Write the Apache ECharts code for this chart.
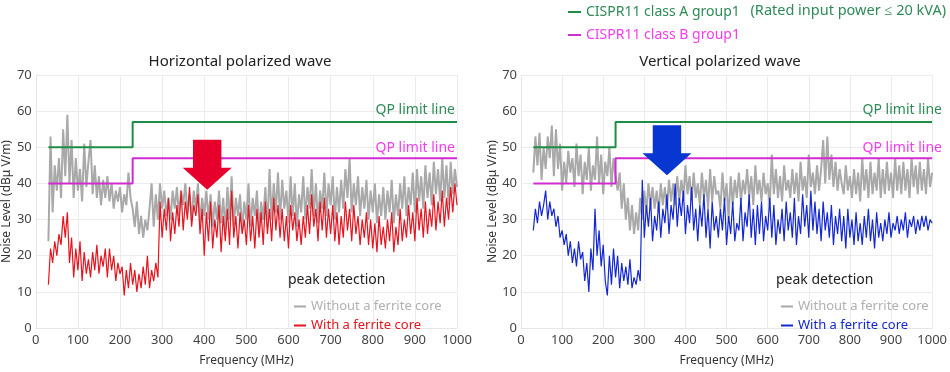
<!DOCTYPE html>
<html>
<head>
<meta charset="utf-8">
<script src="https://cdn.jsdelivr.net/npm/echarts@6/dist/echarts.min.js"></script>
<style>html,body{margin:0;padding:0;background:#fff}#c{width:950px;height:372px}</style>
</head>
<body>
<div id="c"></div>
<script>
// Frequency sampling (MHz): start and step of the measured sweep
const freqStart = 30, freqStep = 5;
const xTicks = [0,100,200,300,400,500,600,700,800,900,1000];
const yTicks = [0,10,20,30,40,50,60,70];

// Limit lines (MHz, dBuV/m)
const limitFreq = [30, 230, 230, 1000];
const limitA = [50, 50, 57, 57];
const limitB = [40, 40, 47, 47];

// Horizontal polarized wave
const hWithout = [
24,53,32,45,38,47,36,55,42,59,
40,52,36,47,38,44,35,51,39,46,
52,37,45,36,42,34,41,36,42,35,
40,33,38,35,39,32,37,34,43,36,
33,28,35,26,31,25,30,27,33,40,
28,37,30,40,33,38,31,36,30,38,
33,39,31,38,34,40,32,37,30,38,
33,40,29,36,31,38,30,37,28,35,
30,38,29,36,27,39,30,42,28,36,
31,37,27,35,30,40,28,36,31,38,
27,35,30,39,28,44,30,40,32,43,
30,41,33,38,29,42,31,40,28,37,
32,42,30,39,33,44,31,40,29,38,
33,43,31,40,34,42,30,39,32,41,
33,44,36,47,32,40,34,42,31,39,
33,41,30,38,32,40,29,37,31,39,
30,38,32,41,29,37,31,40,33,42,
31,39,34,43,32,44,35,42,33,45,
36,43,34,46,37,44,35,47,36,45,
34,46,37,44,39];
const hWith = [
12,22,18,24,20,26,23,31,25,32,
18,25,14,22,16,24,13,21,15,19,
14,21,16,23,15,20,17,22,14,22,
16,20,13,18,15,17,9,16,11,18,
12,16,10,15,11,17,12,20,11,16,
13,18,14,35,25,33,27,36,24,32,
26,34,28,38,27,35,30,39,28,34,
31,37,26,33,20,32,24,35,22,30,
25,34,21,31,24,33,23,38,25,31,
22,32,26,30,23,34,24,31,22,33,
25,32,23,35,26,33,24,36,27,34,
25,33,24,31,22,34,27,32,24,30,
23,31,25,34,26,37,28,33,24,35,
27,36,25,33,26,34,24,32,23,31,
25,35,27,33,24,34,26,31,23,30,
25,32,23,30,22,29,21,31,23,28,
22,30,24,32,21,28,23,33,24,30,
25,34,26,32,24,36,27,33,25,35,
26,33,28,37,27,35,29,38,28,36,
30,39,32,40,34];

// Vertical polarized wave
const vWithout = [
43,53,45,54,41,50,44,53,47,56,
42,55,44,51,38,46,40,49,43,47,
39,51,42,48,37,46,41,50,38,45,
41,53,40,48,37,46,42,50,39,47,
42,38,43,33,40,30,36,27,34,26,
32,27,36,30,38,32,40,34,39,33,
38,32,40,34,39,33,41,35,40,34,
42,35,41,36,45,37,42,35,43,36,
40,34,43,36,41,33,44,35,42,37,
38,33,43,35,40,30,42,34,41,36,
43,35,41,37,44,36,42,34,45,37,
41,35,43,37,40,34,48,37,44,36,
42,35,45,38,41,36,44,37,43,35,
46,38,42,36,48,39,43,37,45,38,
44,52,40,53,41,48,39,46,38,44,
40,37,45,38,42,36,44,37,43,35,
47,38,44,36,46,37,43,38,47,36,
44,37,46,38,43,36,47,38,45,37,
46,38,44,36,47,39,45,37,46,38,
44,37,47,39,43];
const vWith = [
27,33,29,35,31,34,38,30,35,31,
33,28,31,25,27,23,26,20,24,18,
22,17,24,19,21,13,18,10,22,16,
33,20,27,17,23,13,9,20,12,22,
14,20,11,18,13,17,12,19,11,14,
12,16,13,41,25,34,28,36,24,31,
27,35,25,33,29,37,26,34,30,40,
28,36,31,38,26,34,29,39,27,33,
24,34,28,37,25,33,22,35,27,31,
25,33,27,36,23,31,26,35,24,29,
27,36,24,32,28,37,25,33,23,34,
26,35,24,31,27,36,25,34,23,30,
26,33,24,35,27,32,25,36,23,31,
26,37,28,34,25,38,27,35,26,33,
24,35,27,32,25,34,23,31,26,33,
24,31,22,33,25,30,23,32,24,29,
23,31,25,33,24,30,22,32,25,29,
24,30,26,32,25,29,27,31,26,30,
27,32,25,30,28,31,26,30,27,31,
28,31,27,30,29];

// Arrow annotation anchors (MHz, dB)
const hArrow = [407, 45.2];
const vArrow = [355, 49.2];

const FONT = 'Noto Sans';
const GREEN = '#1e8e45', GREEN_T = '#2e8b57';
const MAG = '#d22bd2', MAG_T = '#f53cef';
const GRAY = '#a9a9a9', RED = '#e6141e', BLUE = '#1428d2';

function pairs(vals){ return vals.map((v,i)=>[freqStart + i*freqStep, v]); }
function limPairs(vals){ return vals.map((v,i)=>[limitFreq[i], v]); }

const arrowPath = 'path://M21,0 L79,0 L79,56 L100,56 L50,100 L0,56 L21,56 Z';

function xAxis(gi){ return {gridIndex:gi, type:'value', min:0, max:1000, interval:100,
  name:'Frequency (MHz)', nameLocation:'middle', nameGap:27,
  nameTextStyle:{fontFamily:FONT, fontSize:12, color:'#333'},
  axisLine:{show:true, lineStyle:{color:'#e6e6e6'}}, axisTick:{show:false},
  axisLabel:{fontFamily:FONT, fontSize:13, color:'#444', margin:6, formatter:v=>String(v)},
  splitLine:{show:true, lineStyle:{color:'#ececec'}}}; }
function yAxis(gi, gap){ return {gridIndex:gi, type:'value', min:0, max:70, interval:10,
  name:'Noise Level (dBμ V/m)', nameLocation:'middle', nameGap:gap,
  nameTextStyle:{fontFamily:FONT, fontSize:12, color:'#333'},
  axisLine:{show:true, lineStyle:{color:'#e6e6e6'}}, axisTick:{show:false},
  axisLabel:{fontFamily:FONT, fontSize:13, color:'#444', margin:4},
  splitLine:{show:true, lineStyle:{color:'#ececec'}}}; }

function panel(gi, without, withV, withColor, withName, withoutName, arrowAt, arrowColor){
  return [
    {name:withoutName, type:'line', xAxisIndex:gi, yAxisIndex:gi, data:pairs(without), showSymbol:false,
     lineStyle:{color:GRAY, width:2}, itemStyle:{color:GRAY}, z:2, animation:false},
    {name:withName, type:'line', xAxisIndex:gi, yAxisIndex:gi, data:pairs(withV), showSymbol:false,
     lineStyle:{color:withColor, width:1.2}, itemStyle:{color:withColor}, z:3, animation:false,
     markPoint:{symbol:arrowPath, symbolSize:[49,50], silent:true, animation:false,
       itemStyle:{color:arrowColor}, label:{show:false},
       data:[{coord:arrowAt}]}},
    {name:'CISPR11 class A group1', type:'line', xAxisIndex:gi, yAxisIndex:gi, data:limPairs(limitA), showSymbol:false,
     lineStyle:{color:GREEN, width:2}, itemStyle:{color:GREEN}, z:4, animation:false},
    {name:'CISPR11 class B group1', type:'line', xAxisIndex:gi, yAxisIndex:gi, data:limPairs(limitB), showSymbol:false,
     lineStyle:{color:MAG, width:2}, itemStyle:{color:MAG}, z:4, animation:false}
  ];
}

const chart = echarts.init(document.getElementById('c'), null, {renderer:'canvas'});
const txt = (x,y,t,color,size,align)=>({type:'text', x, y, z:50, style:{text:t, fill:color,
  font:size+'px "'+FONT+'"', textAlign:align||'left', textVerticalAlign:'middle'}});

chart.setOption({
  animation:false,
  grid:[{left:32, right:493, top:75, bottom:34}, {left:521, right:12, top:75, bottom:34}],
  xAxis:[xAxis(0), xAxis(1)],
  yAxis:[yAxis(0, 10), yAxis(1, 20)],
  legend:[
    {orient:'vertical', left:563, top:0, itemGap:9, itemWidth:13, itemHeight:2, icon:'rect',
     textStyle:{fontFamily:FONT, fontSize:14}, selectedMode:false,
     data:[{name:'CISPR11 class A group1', textStyle:{color:GREEN_T}},
           {name:'CISPR11 class B group1', textStyle:{color:MAG_T}}]},
    {orient:'vertical', left:289, top:295, itemGap:6, itemWidth:12, itemHeight:2, icon:'rect',
     textStyle:{fontFamily:FONT, fontSize:13}, selectedMode:false,
     formatter:n=>n.trim(),
     data:[{name:'Without a ferrite core', textStyle:{color:'#b0b0b0'}},
           {name:'With a ferrite core', textStyle:{color:RED}}]},
    {orient:'vertical', left:776, top:295, itemGap:6, itemWidth:12, itemHeight:2, icon:'rect',
     textStyle:{fontFamily:FONT, fontSize:13}, selectedMode:false,
     formatter:n=>n.trim(),
     data:[{name:'Without a ferrite core ', textStyle:{color:'#b0b0b0'}},
           {name:'With a ferrite core ', textStyle:{color:BLUE}}]}
  ],
  graphic:[
    txt(240,62,'Horizontal polarized wave','#222',15,'center'),
    txt(720,62,'Vertical polarized wave','#222',15,'center'),
    txt(946,11,'(Rated input power ≤ 20 kVA)',GREEN_T,14.5,'right'),
    txt(455,110,'QP limit line',GREEN_T,14,'right'),
    txt(455,148,'QP limit line',MAG_T,14,'right'),
    txt(942,110,'QP limit line',GREEN_T,14,'right'),
    txt(942,148,'QP limit line',MAG_T,14,'right'),
    txt(288,280,'peak detection','#222',14,'left'),
    txt(776,280,'peak detection','#222',14,'left')
  ],
  series:[
    ...panel(0, hWithout, hWith, RED, 'With a ferrite core', 'Without a ferrite core', hArrow, '#e8002d'),
    ...panel(1, vWithout, vWith, BLUE, 'With a ferrite core ', 'Without a ferrite core ', vArrow, '#0836d0')
  ]
});
</script>
</body>
</html>
